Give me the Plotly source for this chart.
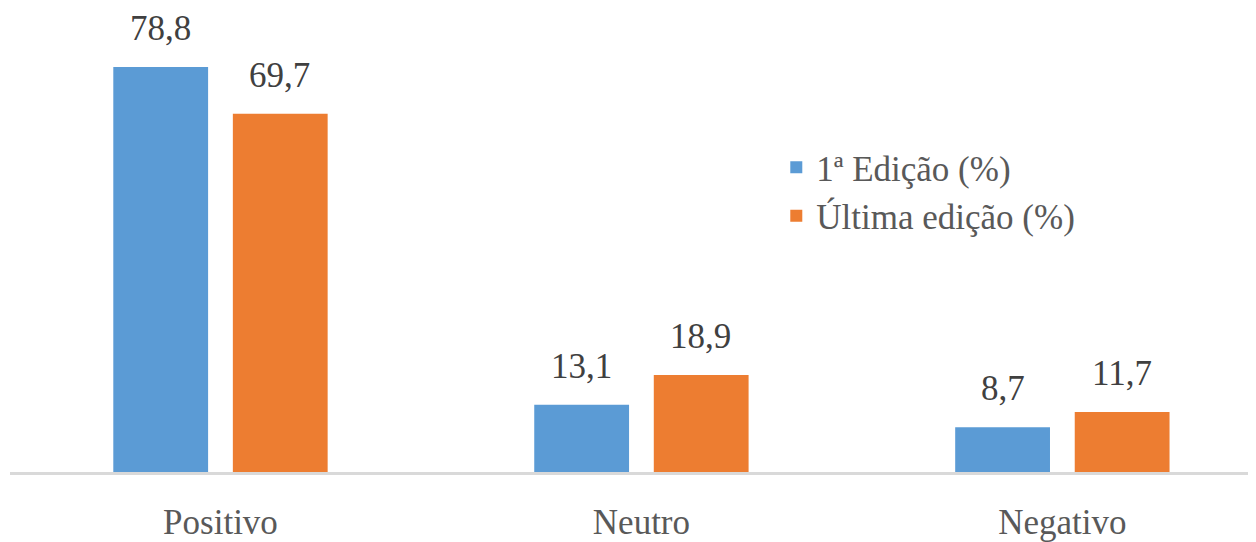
import plotly.graph_objects as go

CATEGORIES = ['Positivo', 'Neutro', 'Negativo']
SERIES = ['1ª Edição (%)', 'Última edição (%)']
FIRST_ED = [78.8, 13.1, 8.7]
LAST_ED = [69.7, 18.9, 11.7]
COLORS = ['#5B9BD5', '#ED7D31']

FONT = 'Liberation Serif'


def fmt(v):
    return f"{v:.1f}".replace('.', ',')


fig = go.Figure()
for name, vals, col in zip(SERIES, [FIRST_ED, LAST_ED], COLORS):
    fig.add_trace(go.Bar(x=CATEGORIES, y=vals, name=name, marker=dict(color=col, line=dict(width=0))))

# value labels sit well above the bars, so use annotations
for i, vals in enumerate([FIRST_ED, LAST_ED]):
    shift = -59.5 if i == 0 else 59.5
    for c, v in zip(CATEGORIES, vals):
        fig.add_annotation(x=c, y=v, text=fmt(v), showarrow=False, xshift=shift, yshift=17,
                           yanchor='bottom', font=dict(family=FONT, size=35, color='#404040'))

# page has an 8px body margin, so the figure is a bit smaller than the window
fig.update_layout(
    width=1248, height=534,
    margin=dict(l=2, r=0, t=0, b=70),
    plot_bgcolor='white', paper_bgcolor='white',
    barmode='group', bargap=0.432, bargroupgap=0.207,
    showlegend=True,
    legend=dict(x=0.615, y=0.72, xanchor='left', yanchor='top', bgcolor='rgba(0,0,0,0)',
                font=dict(family=FONT, size=35, color='#595959'), tracegroupgap=0, itemwidth=30),
    font=dict(family=FONT, size=35, color='#595959'),
)
fig.update_xaxes(range=[-0.5, 2.46], showline=True, linecolor='#D9D9D9', linewidth=3,
                 ticks='outside', ticklen=17, tickcolor='rgba(0,0,0,0)',
                 tickfont=dict(family=FONT, size=35, color='#595959'), showgrid=False)
fig.update_yaxes(range=[0, 90.3], visible=False, showgrid=False, zeroline=False)

fig.write_html("out.html")
